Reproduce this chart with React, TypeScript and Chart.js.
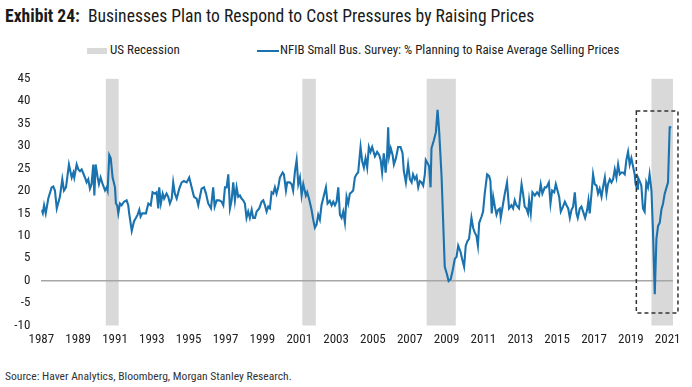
import React, { useEffect, useRef } from "react";
import { Chart, registerables } from "chart.js";

Chart.register(...registerables);

// Decimal-year dates of the NFIB series observations
const dates: number[] = [
  1987.0, 1987.08, 1987.15, 1987.24, 1987.38, 1987.56, 1987.65, 1987.74, 1987.84, 1988.01,
  1988.14, 1988.23, 1988.34, 1988.5, 1988.65, 1988.74, 1988.79, 1988.92, 1989.01, 1989.1,
  1989.19, 1989.37, 1989.46, 1989.55, 1989.64, 1989.73, 1989.82, 1989.88, 1989.95, 1990.06,
  1990.13, 1990.22, 1990.33, 1990.46, 1990.55, 1990.6, 1990.69, 1990.77, 1990.87, 1991.0,
  1991.05, 1991.12, 1991.18, 1991.27, 1991.36, 1991.49, 1991.63, 1991.72, 1991.77, 1991.91,
  1992.03, 1992.14, 1992.23, 1992.32, 1992.39, 1992.48, 1992.68, 1992.81, 1992.94, 1993.04,
  1993.17, 1993.26, 1993.35, 1993.4, 1993.49, 1993.59, 1993.67, 1993.8, 1993.89, 1993.98,
  1994.08, 1994.16, 1994.25, 1994.35, 1994.49, 1994.62, 1994.74, 1994.89, 1995.03, 1995.16,
  1995.29, 1995.43, 1995.52, 1995.61, 1995.7, 1995.83, 1995.94, 1996.06, 1996.21, 1996.33,
  1996.41, 1996.52, 1996.66, 1996.79, 1996.88, 1996.97, 1997.06, 1997.15, 1997.24, 1997.33,
  1997.42, 1997.51, 1997.6, 1997.69, 1997.78, 1997.87, 1997.96, 1998.05, 1998.14, 1998.23,
  1998.32, 1998.42, 1998.5, 1998.6, 1998.69, 1998.83, 1998.96, 1999.05, 1999.14, 1999.23,
  1999.32, 1999.41, 1999.5, 1999.59, 1999.68, 1999.77, 1999.86, 1999.95, 2000.1, 2000.17,
  2000.28, 2000.35, 2000.49, 2000.59, 2000.67, 2000.77, 2000.86, 2000.95, 2001.04, 2001.13,
  2001.22, 2001.36, 2001.43, 2001.53, 2001.67, 2001.76, 2001.85, 2001.94, 2002.03, 2002.12,
  2002.21, 2002.3, 2002.45, 2002.54, 2002.66, 2002.76, 2002.85, 2002.94, 2003.03, 2003.12,
  2003.21, 2003.3, 2003.39, 2003.48, 2003.57, 2003.66, 2003.75, 2003.84, 2003.93, 2004.02,
  2004.11, 2004.2, 2004.33, 2004.42, 2004.51, 2004.6, 2004.69, 2004.78, 2004.87, 2004.96,
  2005.11, 2005.23, 2005.34, 2005.42, 2005.5, 2005.59, 2005.69, 2005.77, 2005.83, 2005.88,
  2005.97, 2006.07, 2006.14, 2006.25, 2006.37, 2006.5, 2006.61, 2006.68, 2006.79, 2006.91,
  2007.01, 2007.1, 2007.18, 2007.28, 2007.37, 2007.46, 2007.55, 2007.64, 2007.73, 2007.82,
  2007.87, 2007.97, 2008.05, 2008.13, 2008.18, 2008.31, 2008.42, 2008.51, 2008.6, 2008.73,
  2008.81, 2008.9, 2009.0, 2009.11, 2009.22, 2009.32, 2009.45, 2009.54, 2009.63, 2009.76,
  2009.84, 2009.95, 2010.04, 2010.14, 2010.22, 2010.35, 2010.44, 2010.53, 2010.62, 2010.7,
  2010.77, 2010.9, 2010.98, 2011.07, 2011.2, 2011.31, 2011.38, 2011.45, 2011.53, 2011.62,
  2011.71, 2011.8, 2011.89, 2011.94, 2012.07, 2012.16, 2012.28, 2012.39, 2012.52, 2012.61,
  2012.7, 2012.79, 2012.93, 2013.07, 2013.15, 2013.24, 2013.33, 2013.42, 2013.48, 2013.57,
  2013.66, 2013.79, 2013.91, 2014.02, 2014.11, 2014.2, 2014.33, 2014.42, 2014.55, 2014.64,
  2014.73, 2014.84, 2014.93, 2015.02, 2015.11, 2015.2, 2015.32, 2015.42, 2015.51, 2015.6,
  2015.69, 2015.78, 2015.87, 2015.96, 2016.05, 2016.12, 2016.23, 2016.32, 2016.41, 2016.52,
  2016.63, 2016.7, 2016.77, 2016.88, 2016.95, 2017.04, 2017.14, 2017.22, 2017.31, 2017.41,
  2017.49, 2017.59, 2017.68, 2017.76, 2017.86, 2017.95, 2018.04, 2018.13, 2018.22, 2018.31,
  2018.4, 2018.49, 2018.58, 2018.67, 2018.76, 2018.85, 2018.94, 2019.03, 2019.12, 2019.21,
  2019.26, 2019.34, 2019.39, 2019.48, 2019.57, 2019.66, 2019.75, 2019.84, 2019.93, 2020.02,
  2020.12, 2020.2, 2020.3, 2020.39, 2020.48, 2020.57, 2020.66, 2020.75, 2020.84, 2020.94,
  2021.02, 2021.11, 2021.2,
];

// % of firms planning to raise average selling prices
const values: number[] = [
  15.8, 15.0, 16.8, 15.0, 18.3, 20.8, 21.0, 20.1, 16.1, 18.7,
  22.6, 20.1, 20.8, 25.9, 23.0, 24.1, 23.0, 25.9, 24.8, 24.4,
  24.8, 23.0, 21.9, 22.6, 20.5, 21.5, 25.9, 19.0, 25.9, 23.0,
  21.5, 23.0, 21.5, 20.1, 20.8, 20.1, 28.0, 27.3, 23.0, 20.8,
  17.2, 16.8, 15.0, 17.2, 16.8, 17.6, 17.9, 16.8, 15.0, 11.1,
  13.2, 14.0, 14.7, 15.8, 14.3, 15.0, 15.0, 17.2, 16.8, 19.7,
  19.4, 19.7, 16.1, 20.8, 17.2, 19.4, 18.3, 19.4, 18.7, 17.2,
  18.3, 21.9, 19.4, 18.3, 20.5, 21.9, 22.2, 21.9, 23.0, 20.8,
  18.7, 18.3, 16.8, 18.7, 20.5, 20.8, 19.4, 17.2, 16.1, 20.8,
  16.5, 17.9, 17.9, 17.6, 16.8, 20.8, 20.8, 23.7, 16.1, 17.9,
  21.9, 17.9, 20.8, 18.7, 19.0, 18.3, 17.9, 17.2, 14.0, 15.4,
  14.0, 15.8, 14.0, 14.0, 15.4, 16.1, 17.6, 17.9, 16.8, 15.4,
  16.5, 16.1, 19.7, 19.4, 20.8, 19.4, 20.8, 23.0, 24.1, 23.7,
  20.1, 21.9, 21.9, 21.5, 20.1, 24.4, 26.9, 21.5, 23.0, 19.0,
  21.5, 19.0, 19.7, 18.3, 15.8, 13.6, 11.8, 12.5, 14.7, 13.6,
  16.8, 18.3, 20.8, 17.2, 17.8, 16.8, 17.6, 16.8, 17.6, 20.8,
  14.7, 14.0, 15.4, 13.0, 18.7, 17.2, 19.4, 19.7, 20.1, 23.0,
  23.7, 24.1, 29.8, 26.6, 25.2, 27.3, 25.2, 29.8, 28.7, 29.8,
  27.7, 28.7, 28.0, 26.9, 24.1, 28.4, 24.1, 28.0, 34.2, 27.7,
  29.5, 28.0, 25.9, 27.3, 29.8, 29.8, 28.4, 24.4, 21.9, 25.9,
  22.6, 21.9, 23.7, 22.6, 23.3, 20.8, 22.2, 21.9, 21.2, 23.7,
  26.9, 26.2, 25.5, 20.8, 29.5, 31.3, 33.1, 38.1, 33.1, 23.0,
  13.6, 3.1, 1.7, -0.1, 0.3, 2.1, 4.9, 5.3, 7.8, 6.4,
  4.9, 3.1, 7.8, 8.9, 9.3, 14.0, 11.8, 10.7, 10.0, 7.8,
  12.9, 14.3, 15.4, 19.4, 23.7, 23.3, 22.2, 15.0, 18.7, 16.5,
  14.7, 15.8, 16.1, 14.0, 17.2, 19.4, 21.9, 16.1, 16.8, 16.1,
  17.9, 16.8, 16.1, 21.5, 19.4, 16.5, 16.1, 15.0, 17.9, 15.0,
  19.7, 19.0, 19.7, 19.0, 21.5, 19.4, 20.8, 20.8, 21.9, 17.2,
  20.1, 19.7, 21.5, 20.1, 18.7, 15.4, 16.5, 17.6, 16.8, 16.1,
  14.0, 15.8, 16.5, 19.7, 15.0, 14.0, 16.1, 16.5, 15.4, 14.0,
  15.8, 17.9, 15.0, 20.1, 23.7, 21.5, 21.2, 19.4, 20.5, 18.7,
  20.8, 23.0, 19.4, 21.5, 22.6, 21.9, 22.6, 24.8, 23.0, 25.9,
  23.7, 24.1, 24.1, 23.7, 26.9, 28.7, 25.9, 27.3, 25.5, 23.7,
  21.5, 20.5, 23.0, 22.2, 21.2, 16.1, 15.4, 21.9, 20.8, 23.7,
  20.1, 11.4, -3.0, 9.3, 12.2, 12.9, 15.8, 17.2, 19.4, 20.8,
  21.9, 34.2, 34.2,
];

const recessionStarts: number[] = [1990.5, 2001.17, 2007.92, 2020.12];
const recessionEnds: number[] = [1991.2, 2001.9, 2009.5, 2021.29];

const xTickYears: number[] = [
  1987, 1989, 1991, 1993, 1995, 1997, 1999, 2001, 2003, 2005, 2007, 2009, 2011, 2013, 2015,
  2017, 2019, 2021,
];
const yMin = -10;
const yMax = 45;
const yStep = 5;
const xMin = 1987;
const xMax = 2021.29;

// highlighted (dashed) window around the latest readings
const boxX: number[] = [2019.3, 2021.56];
const boxY: number[] = [-7.2, 37.8];

const FONT = '"Liberation Sans Narrow", "Roboto Condensed", "Arial Narrow", Roboto, sans-serif';
const LINE_COLOR = "#1a72ae";
const BAND_COLOR = "#d9d9d9";
const TEXT_COLOR = "#222222";

const bandsPlugin = {
  id: "recessionBands",
  beforeDraw(chart: any) {
    const { ctx, chartArea, scales } = chart;
    const xs = scales.x;
    ctx.save();
    ctx.fillStyle = BAND_COLOR;
    for (let i = 0; i < recessionStarts.length; i++) {
      const x0 = xs.getPixelForValue(recessionStarts[i]);
      const x1 = xs.getPixelForValue(recessionEnds[i]);
      ctx.fillRect(x0, chartArea.top, x1 - x0, chartArea.bottom - chartArea.top);
    }
    ctx.restore();
  },
  afterDraw(chart: any) {
    const { ctx, scales } = chart;
    const x0 = scales.x.getPixelForValue(boxX[0]);
    const x1 = scales.x.getPixelForValue(boxX[1]);
    const y0 = scales.y.getPixelForValue(boxY[1]);
    const y1 = scales.y.getPixelForValue(boxY[0]);
    ctx.save();
    ctx.strokeStyle = "#333333";
    ctx.lineWidth = 1.5;
    ctx.setLineDash([4, 3]);
    ctx.strokeRect(x0, y0, x1 - x0, y1 - y0);
    ctx.restore();
  },
};

function ChartCanvas() {
  const ref = useRef<HTMLCanvasElement | null>(null);
  useEffect(() => {
    if (!ref.current) return;
    const chart = new Chart(ref.current, {
      type: "line",
      data: {
        datasets: [
          {
            label: "NFIB Small Bus. Survey: % Planning to Raise Average Selling Prices",
            data: dates.map((d, i) => ({ x: d, y: values[i] })),
            borderColor: LINE_COLOR,
            borderWidth: 2.1,
            pointRadius: 0,
            tension: 0,
            fill: false,
          },
        ],
      },
      options: {
        animation: false,
        responsive: false,
        maintainAspectRatio: false,
        layout: { padding: { top: 11.5, right: 19, left: 0, bottom: 0 } },
        plugins: { legend: { display: false }, tooltip: { enabled: false } },
        scales: {
          x: {
            type: "linear",
            min: xMin,
            max: xMax,
            afterBuildTicks: (scale: any) => {
              scale.ticks = xTickYears.map((v) => ({ value: v }));
            },
            afterFit: (scale: any) => {
              scale.height = 29.5;
            },
            grid: { display: false, drawTicks: false },
            border: { display: false },
            ticks: {
              autoSkip: false,
              maxRotation: 0,
              padding: 6,
              color: TEXT_COLOR,
              font: { family: FONT, size: 13 },
              callback: (v: any) => String(v),
            },
          },
          y: {
            type: "linear",
            min: yMin,
            max: yMax,
            afterFit: (scale: any) => {
              scale.width = 41.3;
            },
            grid: {
              drawTicks: false,
              color: (c: any) => (c.tick && c.tick.value === 0 ? "#a6a6a6" : "rgba(0,0,0,0)"),
              lineWidth: 1.5,
            },
            border: { display: false },
            ticks: {
              stepSize: yStep,
              padding: 11,
              color: TEXT_COLOR,
              font: { family: FONT, size: 13 },
            },
          },
        },
      },
      plugins: [bandsPlugin],
    });
    return () => chart.destroy();
  }, []);
  return (
    <canvas
      ref={ref}
      width={692}
      height={295}
      style={{ position: "absolute", left: 0, top: 60, width: 692, height: 295 }}
    />
  );
}

export default function App() {
  useEffect(() => {
    document.body.style.margin = "0";
  }, []);
  return (
    <div
      style={{
        position: "relative",
        width: 692,
        height: 387,
        background: "#ffffff",
        overflow: "hidden",
        fontFamily: FONT,
        color: TEXT_COLOR,
      }}
    >
      <div
        style={{
          position: "absolute",
          left: 5,
          top: 6,
          fontSize: 17.6,
          lineHeight: "20px",
          whiteSpace: "nowrap",
          color: "#1a1a1a",
        }}
      >
        <span style={{ fontWeight: 700 }}>Exhibit 24:</span>
        {"\u00a0 Businesses Plan to Respond to Cost Pressures by Raising Prices"}
      </div>
      <div
        style={{
          position: "absolute",
          left: 87,
          top: 48,
          width: 20,
          height: 6,
          background: BAND_COLOR,
        }}
      />
      <div
        style={{
          position: "absolute",
          left: 110,
          top: 42,
          fontSize: 13,
          lineHeight: "16px",
          whiteSpace: "nowrap",
        }}
      >
        US Recession
      </div>
      <div
        style={{
          position: "absolute",
          left: 257,
          top: 50,
          width: 22,
          height: 2,
          background: LINE_COLOR,
        }}
      />
      <div
        style={{
          position: "absolute",
          left: 280,
          top: 42,
          fontSize: 12.9,
          lineHeight: "16px",
          whiteSpace: "nowrap",
        }}
      >
        NFIB Small Bus. Survey: % Planning to Raise Average Selling Prices
      </div>
      <ChartCanvas />
      <div
        style={{
          position: "absolute",
          left: 5,
          top: 369,
          fontSize: 11.6,
          lineHeight: "15px",
          whiteSpace: "nowrap",
          color: "#333333",
        }}
      >
        Source: Haver Analytics, Bloomberg, Morgan Stanley Research.
      </div>
    </div>
  );
}
